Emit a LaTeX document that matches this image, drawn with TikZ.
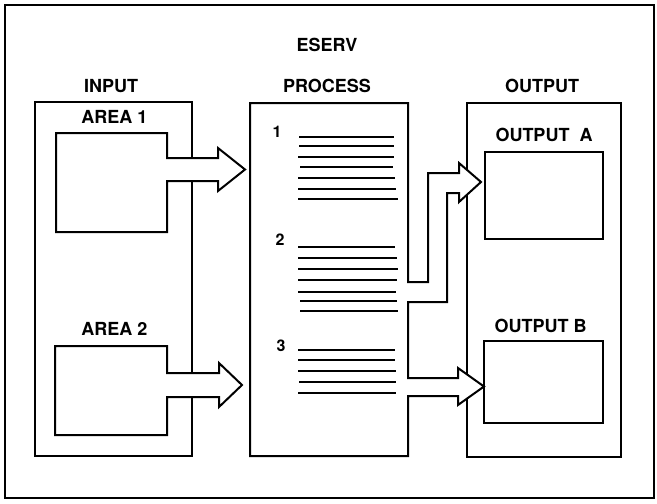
\documentclass[tikz,border=0pt]{standalone}
\usepackage{fontspec}
\setmainfont{TeX Gyre Heros}
\usepackage{tikz}

\begin{document}
\begin{tikzpicture}[x=1pt,y=-1pt,line width=2pt,
    lbl/.style={font=\fontsize{18}{20}\selectfont\bfseries, inner sep=0pt},
    num/.style={font=\fontsize{16}{18}\selectfont\bfseries, inner sep=0pt}]
  \useasboundingbox (0,0) rectangle (657,504);

  % frame and the three columns
  \draw[line width=2.8pt] (5,5) rectangle (654,498);
  \draw (35,102) rectangle (192,456);
  \draw (467,103) rectangle (621,457);

  % input areas with their arrows
  \draw[fill=white] (56,133) -- (167,133) -- (167,158) -- (218,158) -- (218,148)
    -- (245,169.5) -- (218,191) -- (218,181) -- (167,181) -- (167,232) -- (56,232) -- cycle;
  \draw[fill=white] (55,346) -- (167,346) -- (167,373) -- (219,373) -- (219,363)
    -- (242,385) -- (219,407) -- (219,397) -- (167,397) -- (167,435) -- (55,435) -- cycle;

  % process box with the two output pipes
  \draw[fill=white] (250,103) -- (408,103) -- (408,282) -- (428,282) -- (428,173)
    -- (459,173) -- (459,163) -- (481,182) -- (459,202) -- (459,193) -- (447,193)
    -- (447,302) -- (408,302) -- (408,378) -- (458,378) -- (458,368) -- (484,386.5)
    -- (458,405) -- (458,396) -- (408,396) -- (408,456) -- (250,456) -- cycle;

  % output areas
  \draw (485,152) rectangle (603,239);
  \draw (484,341) rectangle (603,423);

  % process lines
  \draw (299,137) -- (394,137);
  \draw (299,146) -- (394,146);
  \draw (298,157) -- (394,157);
  \draw (300,167) -- (393,167);
  \draw (298,178) -- (395,178);
  \draw (298,189) -- (396,189);
  \draw (298,199) -- (398,199);

  \draw (298,247) -- (395,247);
  \draw (298,258) -- (397,258);
  \draw (298,269) -- (398,269);
  \draw (298,280) -- (397,280);
  \draw (298,292) -- (396,292);
  \draw (300,301) -- (397,301);
  \draw (300,311) -- (398,311);

  \draw (298,350) -- (395,350);
  \draw (298,360) -- (395,360);
  \draw (298,371) -- (396,371);
  \draw (299,382) -- (396,382);
  \draw (298,393) -- (396,393);

  \node[num] (n1) at (277,132) {1};
  \node[num] (n2) at (280,240) {2};
  \node[num] (n3) at (281,346) {3};

  % labels
  \node[lbl] (eserv) at (327,45) {ESERV};
  \node[lbl] (input) at (111,86) {INPUT};
  \node[lbl] (process) at (327,86) {PROCESS};
  \node[lbl] (output) at (542,86) {OUTPUT};
  \node[lbl] (area1) at (114.5,117) {AREA 1};
  \node[lbl] (area2) at (114.5,329) {AREA 2};
  \node[lbl] (outa) at (544,135) {OUTPUT\ \ A};
  \node[lbl] (outb) at (540.5,326) {OUTPUT B};
\end{tikzpicture}
\end{document}
